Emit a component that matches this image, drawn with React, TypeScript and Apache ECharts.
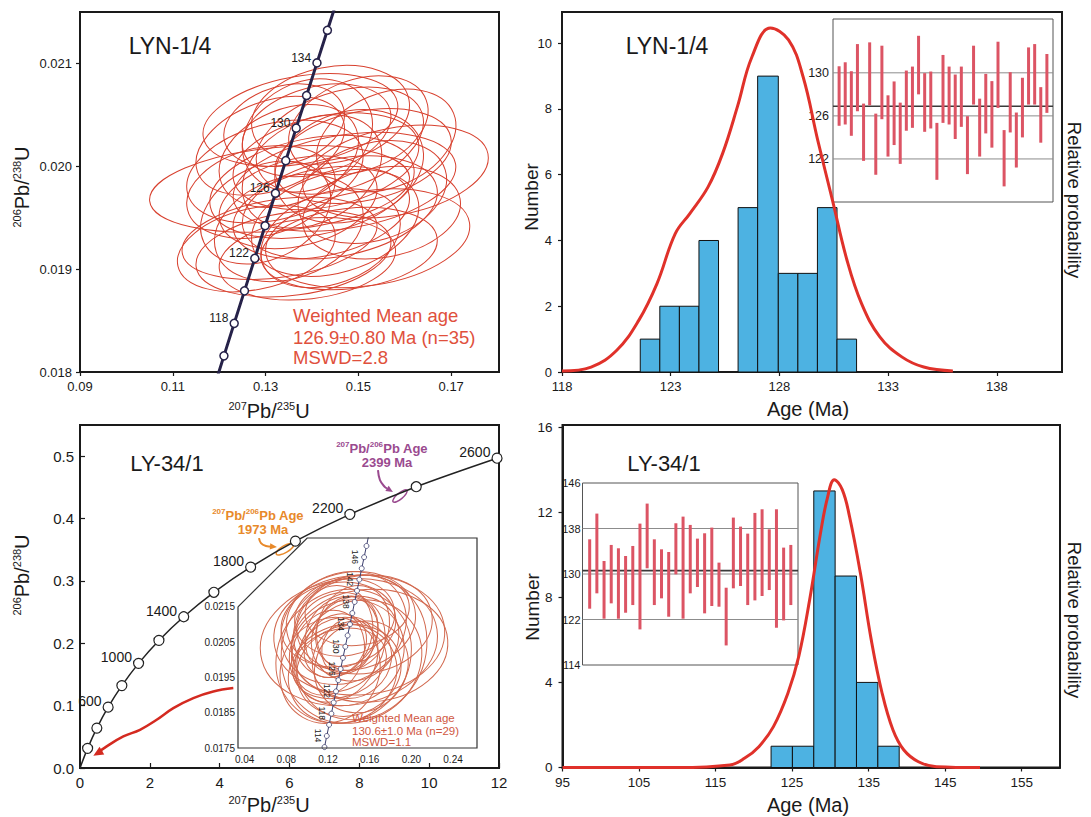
import React, { useEffect, useRef } from "react";
import * as echarts from "echarts";

const FONT = '"Liberation Sans", Arial, Helvetica, sans-serif';

// ---------- Concordia, small age range (LYN-1/4 and LY-34/1 inset) ----------
const concAgesSmall = [112, 114, 116, 118, 120, 122, 124, 126, 128, 130, 132, 134, 136, 138, 140, 142, 144, 146, 148, 150];
const concX207Small = [0.11662, 0.11882, 0.12102, 0.12323, 0.12545, 0.12767, 0.12989, 0.13212, 0.13435, 0.13659, 0.13883, 0.14107, 0.14332, 0.14558, 0.14784, 0.1501, 0.15237, 0.15464, 0.15692, 0.1592];
const concY206Small = [0.017526, 0.017841, 0.018157, 0.018473, 0.018789, 0.019105, 0.019422, 0.019738, 0.020055, 0.020371, 0.020688, 0.021005, 0.021322, 0.021638, 0.021955, 0.022272, 0.022589, 0.022906, 0.023224, 0.023542];
const concMarkAgesTop = [116, 118, 120, 122, 124, 126, 128, 130, 132, 134, 136];
const concLabelAgesTop = [118, 122, 126, 130, 134];
const concMarkAgesInset = [112, 114, 116, 118, 120, 122, 124, 126, 128, 130, 132, 134, 136, 138, 140, 142, 144, 146, 148];
const concLabelAgesInset = [114, 118, 122, 126, 130, 134, 138, 142, 146];

// ---------- Concordia, full range (LY-34/1) ----------
const concAgesLarge = [0, 200, 400, 600, 800, 1000, 1200, 1400, 1600, 1800, 2000, 2200, 2400, 2600];
const concX207Large = [0, 0.2177, 0.4828, 0.8056, 1.1987, 1.6774, 2.2603, 2.9701, 3.8344, 4.8869, 6.1685, 7.7292, 9.6295, 11.9438];
const concY206Large = [0, 0.03151, 0.06402, 0.09754, 0.13213, 0.1678, 0.20459, 0.24256, 0.28172, 0.32211, 0.36376, 0.40673, 0.45106, 0.49679];
const concLabelAgesLarge = [600, 1000, 1400, 1800, 2200, 2600];

// ---------- LYN-1/4 error ellipses (207/235, 206/238, sx, sy, rho) ----------
const elX1 = [0.133, 0.1375, 0.144, 0.158, 0.152, 0.133, 0.14, 0.146, 0.148, 0.135, 0.129, 0.142, 0.15, 0.139, 0.145, 0.131, 0.153, 0.137, 0.143, 0.135, 0.148, 0.128, 0.141, 0.156, 0.132, 0.146, 0.139, 0.151, 0.136, 0.13, 0.144, 0.14, 0.147, 0.134, 0.155];
const elY1 = [0.01978, 0.02045, 0.0205, 0.01995, 0.0193, 0.0193, 0.0198, 0.02025, 0.02, 0.0201, 0.01975, 0.01955, 0.0204, 0.0191, 0.01945, 0.0202, 0.01975, 0.01965, 0.02005, 0.0194, 0.0192, 0.0192, 0.02035, 0.02025, 0.01995, 0.0196, 0.0203, 0.0201, 0.01915, 0.01955, 0.0193, 0.01995, 0.01985, 0.0204, 0.01955];
const elSX1 = [0.028, 0.021, 0.017, 0.02, 0.022, 0.021, 0.022, 0.018, 0.016, 0.015, 0.016, 0.019, 0.015, 0.019, 0.018, 0.016, 0.016, 0.017, 0.02, 0.016, 0.019, 0.017, 0.016, 0.015, 0.019, 0.021, 0.014, 0.019, 0.021, 0.014, 0.015, 0.015, 0.024, 0.013, 0.017];
const elSY1 = [0.00042, 0.00045, 0.00048, 0.00045, 0.00048, 0.0004, 0.0005, 0.00052, 0.00055, 0.0005, 0.00045, 0.00045, 0.00048, 0.0004, 0.00052, 0.00048, 0.0005, 0.00045, 0.00047, 0.00052, 0.0004, 0.00042, 0.00045, 0.0005, 0.0005, 0.0005, 0.00055, 0.00046, 0.00042, 0.0005, 0.00048, 0.00055, 0.00048, 0.0004, 0.00045];
const elRho1 = [0.25, 0.3, 0.2, 0.3, 0.25, 0.3, 0.3, 0.35, 0.2, 0.3, 0.25, 0.3, 0.3, 0.2, 0.3, 0.35, 0.25, 0.3, 0.3, 0.25, 0.2, 0.3, 0.3, 0.3, 0.3, 0.3, 0.2, 0.3, 0.25, 0.3, 0.3, 0.3, 0.3, 0.25, 0.2];

// ---------- LY-34/1 inset error ellipses ----------
const elX2 = [0.14, 0.15, 0.145, 0.135, 0.13, 0.138, 0.142, 0.128, 0.15, 0.133, 0.125, 0.14, 0.155, 0.136, 0.12, 0.146, 0.131, 0.138, 0.16, 0.127, 0.143, 0.134, 0.148, 0.122, 0.139, 0.152, 0.13, 0.144, 0.135];
const elY2 = [0.0205, 0.0207, 0.0203, 0.0209, 0.0205, 0.0202, 0.0211, 0.02, 0.02, 0.0207, 0.0208, 0.0197, 0.021, 0.0212, 0.0202, 0.0206, 0.0199, 0.0208, 0.0204, 0.0204, 0.02, 0.0196, 0.0214, 0.0197, 0.0204, 0.0198, 0.021, 0.0209, 0.0201];
const elSX2 = [0.085, 0.082, 0.07, 0.06, 0.045, 0.055, 0.062, 0.04, 0.06, 0.035, 0.038, 0.05, 0.065, 0.048, 0.035, 0.042, 0.045, 0.03, 0.075, 0.03, 0.038, 0.052, 0.05, 0.048, 0.025, 0.045, 0.055, 0.035, 0.065];
const elSY2 = [0.0018, 0.0017, 0.0021, 0.0016, 0.0014, 0.0015, 0.0014, 0.0012, 0.0017, 0.0011, 0.0013, 0.0013, 0.0014, 0.0011, 0.0012, 0.0012, 0.001, 0.001, 0.0016, 0.0009, 0.0011, 0.0014, 0.001, 0.0015, 0.0008, 0.0013, 0.0012, 0.0012, 0.0019];
const elRho2 = [0.1, 0.05, 0.1, 0.15, 0.1, 0.1, 0.1, 0.2, 0.1, 0.15, 0.1, 0.1, 0.1, 0.1, 0.15, 0.1, 0.2, 0.15, 0.05, 0.2, 0.1, 0.1, 0.1, 0.1, 0.2, 0.1, 0.1, 0.15, 0.1];

// ---------- LY-34/1 inherited zircons ----------
const oldX = [5.87, 9.164];
const oldY = [0.351, 0.436];
const oldSX = [0.253, 0.205];
const oldSY = [0.0094, 0.00996];
const oldRho = [0.73, 0.79];

// ---------- annotation arrows (LY-34/1, in axis units) ----------
const redArrowX = [4.391, 3.818, 3.246, 2.673, 2.196, 1.718, 1.241, 0.764, 0.477, 0.382];
const redArrowY = [0.1281, 0.1227, 0.1121, 0.096, 0.0773, 0.0613, 0.0507, 0.0347, 0.0229, 0.0197];
const orangeArrowX = [5.126, 5.183, 5.326, 5.641];
const orangeArrowY = [0.3687, 0.3607, 0.3559, 0.3543];
const purpleArrowX = [8.534, 8.591, 8.734, 8.963];
const purpleArrowY = [0.4776, 0.4616, 0.4504, 0.4424];

// ---------- LYN-1/4 histogram & probability ----------
const binEdges1 = [121.6, 122.5, 123.4, 124.3, 125.2, 126.1, 127.0, 127.95, 128.85, 129.75, 130.65, 131.55];
const binCounts1 = [1, 2, 2, 4, 0, 5, 9, 3, 3, 5, 1];
const probAge1 = [118.0, 119.34, 120.52, 121.53, 122.37, 123.21, 123.88, 124.72, 125.39, 126.07, 126.74, 127.58, 128.42, 129.09, 129.76, 130.44, 131.11, 131.78, 132.62, 133.63, 134.64, 135.98];
const probVal1 = [0.03, 0.15, 0.66, 1.57, 2.69, 4.21, 4.82, 5.63, 6.65, 8.07, 9.59, 10.46, 10.1, 8.98, 7.06, 5.23, 3.4, 2.08, 1.07, 0.46, 0.15, 0.03];

// ---------- LYN-1/4 inset (age error bars) ----------
const insetHi1 = [130.61, 130.98, 130.15, 132.67, 127.14, 132.83, 126.21, 132.52, 127.91, 129.2, 127.23, 130.21, 130.58, 133.44, 129.97, 130.12, 125.35, 131.66, 130.58, 129.84, 130.58, 125.97, 132.52, 127.6, 129.9, 129.23, 132.89, 124.68, 130.06, 126.31, 129.54, 132.36, 132.67, 128.67, 131.75];
const insetLo1 = [125.08, 125.2, 124.15, 126.43, 121.82, 126.98, 120.53, 125.69, 122.22, 123.29, 121.54, 124.62, 124.89, 128.0, 124.52, 124.83, 120.06, 125.35, 125.2, 123.85, 124.98, 120.59, 127.05, 122.22, 124.37, 123.05, 126.74, 119.45, 124.46, 121.2, 124.0, 127.05, 127.05, 123.51, 126.28];
const insetRef1 = [122, 126, 130];
const insetMean1 = 126.9;
const insetTicks1 = [122, 126, 130];

// ---------- LY-34/1 histogram & probability ----------
const binEdges2 = [122.25, 125.04, 127.83, 130.62, 133.41, 136.2, 138.99];
const binCounts2 = [1, 1, 13, 9, 4, 1];
const probAge2 = [95, 110, 116.87, 118.77, 120.66, 122.56, 124.45, 125.87, 127.29, 128.71, 129.66, 130.51, 131.55, 132.5, 133.92, 135.34, 136.76, 138.18, 139.6, 141.5, 143.86, 149.55];
const probVal2 = [0, 0, 0.12, 0.43, 0.98, 1.92, 3.49, 5.22, 7.88, 11.02, 12.75, 13.53, 13.06, 11.8, 9.14, 6.0, 3.49, 1.76, 0.82, 0.27, 0.04, 0];

// ---------- LY-34/1 inset (age error bars) ----------
const insetHi2 = [136.1, 140.62, 132.29, 135.11, 134.52, 133.17, 134.93, 138.86, 142.38, 136.1, 134.34, 133.87, 138.92, 140.09, 138.63, 136.22, 137.16, 138.16, 132.0, 127.59, 139.92, 138.33, 137.1, 140.74, 141.38, 137.86, 141.38, 134.64, 135.11];
const insetLo2 = [123.9, 126.6, 122.14, 124.84, 122.14, 123.19, 124.54, 120.26, 131.0, 124.54, 125.72, 122.49, 129.94, 122.14, 126.6, 127.71, 123.08, 124.37, 124.25, 117.44, 127.48, 127.89, 124.54, 125.36, 126.13, 127.18, 120.55, 121.84, 124.54];
const insetRef2 = [122, 130, 138];
const insetMean2 = 130.6;
const insetTicks2 = [114, 122, 130, 138, 146];

// ---------- axis ticks ----------
const ticksX0 = [0.09, 0.11, 0.13, 0.15, 0.17];
const ticksY0 = [0.018, 0.019, 0.02, 0.021];
const ticksX1 = [118, 123, 128, 133, 138];
const ticksY1 = [0, 2, 4, 6, 8, 10];
const ticksX3 = [0, 2, 4, 6, 8, 10, 12];
const ticksY3 = [0, 0.1, 0.2, 0.3, 0.4, 0.5];
const ticksX4 = [0.04, 0.08, 0.12, 0.16, 0.2, 0.24];
const ticksY4 = [0.0175, 0.0185, 0.0195, 0.0205, 0.0215];
const ticksX5 = [95, 105, 115, 125, 135, 145, 155];
const ticksY5 = [0, 4, 8, 12, 16];

// layout
const G = [
  { left: 80, top: 12, width: 419, height: 360 },
  { left: 562, top: 12, width: 500, height: 360 },
  { left: 833, top: 19, width: 220, height: 183 },
  { left: 80, top: 425, width: 419, height: 343 },
  { left: 238, top: 538, width: 239, height: 210 },
  { left: 562.5, top: 425, width: 497.5, height: 342.5 },
  { left: 582.5, top: 483, width: 215.5, height: 182 },
];
const X4 = [0.0336, 0.263];
const Y4 = [0.0175, 0.02345];

const INK = "#1a1a1a";

function valAxis(gi: number, min: number, max: number, ticks: number[] | null, fmt: any, o: any = {}) {
  return {
    type: "value",
    gridIndex: gi,
    min,
    max,
    show: o.show !== false,
    axisLine: { show: o.line !== false, onZero: false, lineStyle: { color: INK, width: o.lw ?? 2 } },
    axisTick: {
      show: o.tick !== false && !!ticks,
      inside: !!o.inside,
      length: o.tickLen ?? 4,
      customValues: ticks || undefined,
      lineStyle: { color: INK, width: 1.2 },
    },
    axisLabel: {
      show: !!ticks,
      customValues: ticks || undefined,
      formatter: fmt,
      fontSize: o.fs ?? 13,
      fontFamily: FONT,
      color: INK,
      margin: o.margin ?? 8,
    },
    splitLine: { show: false },
  };
}

function ellipseSeries(gi: number, xs: number[], ys: number[], sxs: number[], sys: number[], rhos: number[], color: string, lw: number, z: number) {
  return {
    type: "custom",
    xAxisIndex: gi,
    yAxisIndex: gi,
    clip: true,
    z,
    silent: true,
    data: xs.map((x, i) => [x, ys[i], sxs[i], sys[i], rhos[i]]),
    renderItem: (_p: any, api: any) => {
      const c = api.coord([api.value(0), api.value(1)]);
      const s = api.size([api.value(2), api.value(3)]);
      const rho = api.value(4);
      const a = s[0] * s[0];
      const d = s[1] * s[1];
      const b = -rho * s[0] * s[1];
      const th = 0.5 * Math.atan2(2 * b, a - d);
      const m = (a + d) / 2;
      const r = Math.sqrt(((a - d) / 2) * ((a - d) / 2) + b * b);
      const rx = Math.sqrt(m + r);
      const ry = Math.sqrt(Math.max(m - r, 0.5));
      return {
        type: "ellipse",
        x: c[0],
        y: c[1],
        rotation: -th,
        shape: { cx: 0, cy: 0, rx, ry },
        style: { fill: "none", stroke: color, lineWidth: lw },
      };
    },
  };
}

function histSeries(gi: number, edges: number[], counts: number[]) {
  const data: number[][] = [];
  counts.forEach((c, i) => {
    if (c > 0) data.push([edges[i], edges[i + 1], c]);
  });
  return {
    type: "custom",
    xAxisIndex: gi,
    yAxisIndex: gi,
    z: 2,
    silent: true,
    data,
    renderItem: (_p: any, api: any) => {
      const p0 = api.coord([api.value(0), api.value(2)]);
      const p1 = api.coord([api.value(1), 0]);
      return {
        type: "rect",
        shape: { x: p0[0], y: p0[1], width: p1[0] - p0[0], height: p1[1] - p0[1] },
        style: { fill: "#4db2e2", stroke: "#111", lineWidth: 1 },
      };
    },
  };
}

function errorBarSeries(gi: number, lo: number[], hi: number[], lw: number) {
  return {
    type: "custom",
    xAxisIndex: gi,
    yAxisIndex: gi,
    z: 4,
    silent: true,
    data: lo.map((l, i) => [i + 1, l, hi[i]]),
    renderItem: (_p: any, api: any) => {
      const a = api.coord([api.value(0), api.value(1)]);
      const b = api.coord([api.value(0), api.value(2)]);
      return {
        type: "line",
        shape: { x1: a[0], y1: a[1], x2: b[0], y2: b[1] },
        style: { stroke: "#dc5464", lineWidth: lw },
      };
    },
  };
}

function refLine(gi: number, v: number, xmax: number, color: string, w: number) {
  return {
    type: "line",
    xAxisIndex: gi,
    yAxisIndex: gi,
    symbol: "none",
    silent: true,
    z: 3,
    data: [
      [0, v],
      [xmax, v],
    ],
    lineStyle: { color, width: w },
  };
}

function arrowSeries(gi: number, xs: number[], ys: number[], color: string, lw: number, head: number) {
  return {
    type: "custom",
    xAxisIndex: gi,
    yAxisIndex: gi,
    z: 6,
    silent: true,
    data: [[xs[0], ys[0]]],
    renderItem: (_p: any, api: any) => {
      const pts = xs.map((x, i) => api.coord([x, ys[i]]));
      const n = pts.length;
      const tip = pts[n - 1];
      const prev = pts[n - 2];
      const ang = Math.atan2(tip[1] - prev[1], tip[0] - prev[0]);
      const w = head * 0.45;
      const bx = tip[0] - head * Math.cos(ang);
      const by = tip[1] - head * Math.sin(ang);
      const l = [bx + w * Math.sin(ang), by - w * Math.cos(ang)];
      const r = [bx - w * Math.sin(ang), by + w * Math.cos(ang)];
      return {
        type: "group",
        children: [
          {
            type: "polyline",
            shape: { points: pts.slice(0, n - 1).concat([[bx, by]]), smooth: 0.4 },
            style: { stroke: color, lineWidth: lw, fill: "none" },
          },
          { type: "polygon", shape: { points: [tip, l, r] }, style: { fill: color } },
        ],
      };
    },
  };
}

function concordiaSeries(
  gi: number,
  ages: number[],
  xs: number[],
  ys: number[],
  markAges: number[],
  labelAges: number[],
  o: any
) {
  return {
    type: "line",
    xAxisIndex: gi,
    yAxisIndex: gi,
    z: 5,
    clip: true,
    silent: true,
    smooth: o.smooth ?? false,
    showAllSymbol: true,
    symbolSize: o.size,
    itemStyle: { color: "#fff", borderColor: o.color, borderWidth: o.bw },
    lineStyle: { color: o.color, width: o.lw },
    label: { ...o.label, fontFamily: FONT, color: INK },
    data: ages.map((a, i) => ({
      value: [xs[i], ys[i]],
      symbol: markAges.indexOf(a) >= 0 ? "circle" : "none",
      label: labelAges.indexOf(a) >= 0 ? { show: true, formatter: String(a) } : { show: false },
    })),
  };
}

function txt(x: number, y: number, text: string, fs: number, color: string, o: any = {}) {
  return {
    type: "text",
    x,
    y,
    rotation: o.rot || 0,
    z: 100,
    silent: true,
    style: {
      text,
      fontSize: fs,
      fontFamily: FONT,
      fontWeight: o.bold ? "bold" : "normal",
      fill: color,
      align: o.align || "center",
      verticalAlign: "middle",
      rich: o.rich,
    },
  };
}

function isoRich(main: number, sup: number, bold = false) {
  const w = bold ? "bold" : "normal";
  return {
    s: { fontSize: sup, lineHeight: sup + 1, verticalAlign: "top", fontFamily: FONT, fontWeight: w },
    m: { fontSize: main, lineHeight: main + 2, fontFamily: FONT, fontWeight: w },
  };
}

function buildOption() {
  const g4 = G[4];
  const chamferY = g4.top + (g4.height * (Y4[1] - 0.0215)) / (Y4[1] - Y4[0]);
  const chamferX = g4.left + (g4.width * (0.1 - X4[0])) / (X4[1] - X4[0]);
  const frame = [
    [g4.left, chamferY],
    [chamferX, g4.top],
    [g4.left + g4.width, g4.top],
    [g4.left + g4.width, g4.top + g4.height],
    [g4.left, g4.top + g4.height],
    [g4.left, chamferY],
  ];

  const red = "#e0312a";
  const wmColor = "#e0503c";

  return {
    animation: false,
    backgroundColor: "#ffffff",
    grid: G.map((g, i) => ({
      ...g,
      show: i !== 4,
      borderColor: i === 2 || i === 6 ? "#555" : INK,
      borderWidth: i === 2 || i === 6 ? 1 : 2,
      backgroundColor: "transparent",
      containLabel: false,
    })),
    xAxis: [
      valAxis(0, 0.09, 0.1803, ticksX0, (v: number) => v.toFixed(2), { fs: 13 }),
      valAxis(1, 118, 141, ticksX1, (v: number) => String(v), { fs: 13 }),
      valAxis(2, 0, 36, null, null, { show: false }),
      valAxis(3, 0, 12, ticksX3, (v: number) => String(v), { fs: 15, inside: true, tickLen: 5, margin: 7 }),
      valAxis(4, X4[0], X4[1], ticksX4, (v: number) => v.toFixed(2), { fs: 10, line: false, tick: false, margin: 6 }),
      valAxis(5, 95, 160, ticksX5, (v: number) => String(v), { fs: 13.5 }),
      valAxis(6, 0, 30, null, null, { show: false }),
    ],
    yAxis: [
      valAxis(0, 0.018, 0.0215, ticksY0, (v: number) => v.toFixed(3), { fs: 13 }),
      valAxis(1, 0, 10.95, ticksY1, (v: number) => String(v), { fs: 13, margin: 10 }),
      valAxis(2, 118, 135, insetTicks1, (v: number) => String(v), { fs: 12.5, line: false, tick: false, margin: 4 }),
      valAxis(3, 0, 0.55, ticksY3, (v: number) => v.toFixed(1), { fs: 15, inside: true, tickLen: 5, margin: 6 }),
      valAxis(4, Y4[0], Y4[1], ticksY4, (v: number) => v.toFixed(4), { fs: 10, line: false, tick: false, margin: 3 }),
      valAxis(5, 0, 16.1, ticksY5, (v: number) => String(v), { fs: 13.5, margin: 10 }),
      valAxis(6, 114, 146, insetTicks2, (v: number) => String(v), { fs: 11, line: false, tick: false, margin: 2 }),
    ],
    series: [
      // LYN-1/4 concordia diagram
      ellipseSeries(0, elX1, elY1, elSX1, elSY1, elRho1, "#d8412f", 1, 2),
      concordiaSeries(0, concAgesSmall, concX207Small, concY206Small, concMarkAgesTop, concLabelAgesTop, {
        color: "#262249",
        lw: 3,
        size: 8,
        bw: 1.5,
        label: { position: "left", distance: 1, offset: [0, -5], fontSize: 12 },
      }),
      // LYN-1/4 histogram
      histSeries(1, binEdges1, binCounts1),
      {
        type: "line",
        xAxisIndex: 1,
        yAxisIndex: 1,
        z: 5,
        smooth: 0.4,
        symbol: "none",
        silent: true,
        data: probAge1.map((a, i) => [a, probVal1[i]]),
        lineStyle: { color: red, width: 3 },
      },
      ...insetRef1.map((v) => refLine(2, v, 36, "#8c8c8c", 1)),
      refLine(2, insetMean1, 36, "#3a3a3a", 1.6),
      errorBarSeries(2, insetLo1, insetHi1, 3),
      // LY-34/1 concordia diagram
      concordiaSeries(3, concAgesLarge, concX207Large, concY206Large, concAgesLarge.slice(1), concLabelAgesLarge, {
        color: "#222",
        lw: 1.5,
        size: 10,
        bw: 1.2,
        smooth: 0.3,
        label: { position: "left", distance: 1, offset: [0, -6], fontSize: 14 },
      }),
      ellipseSeries(3, oldX.slice(0, 1), oldY.slice(0, 1), oldSX.slice(0, 1), oldSY.slice(0, 1), oldRho.slice(0, 1), "#e8892a", 1.5, 4),
      ellipseSeries(3, oldX.slice(1), oldY.slice(1), oldSX.slice(1), oldSY.slice(1), oldRho.slice(1), "#9a4a8f", 1.5, 4),
      arrowSeries(3, redArrowX, redArrowY, "#d42a20", 2.5, 10),
      arrowSeries(3, orangeArrowX, orangeArrowY, "#e8892a", 2, 7),
      arrowSeries(3, purpleArrowX, purpleArrowY, "#9a4a8f", 2, 7),
      // LY-34/1 inset
      ellipseSeries(4, elX2, elY2, elSX2, elSY2, elRho2, "#d2694f", 1, 2),
      concordiaSeries(4, concAgesSmall, concX207Small, concY206Small, concMarkAgesInset, concLabelAgesInset, {
        color: "#3c3f6e",
        lw: 1,
        size: 5,
        bw: 0.8,
        label: { position: [-6, 2.5], align: "center", verticalAlign: "middle", rotate: -90, fontSize: 8.5 },
      }),
      // LY-34/1 histogram
      histSeries(5, binEdges2, binCounts2),
      {
        type: "line",
        xAxisIndex: 5,
        yAxisIndex: 5,
        z: 5,
        smooth: 0.4,
        symbol: "none",
        silent: true,
        data: probAge2.map((a, i) => [a, probVal2[i]]),
        lineStyle: { color: red, width: 3 },
      },
      ...insetRef2.map((v) => refLine(6, v, 30, "#8c8c8c", 1)),
      refLine(6, insetMean2, 30, "#3a3a3a", 1.6),
      errorBarSeries(6, insetLo2, insetHi2, 3),
    ],
    graphic: [
      { type: "polyline", z: 50, silent: true, shape: { points: frame }, style: { stroke: "#333", lineWidth: 1.2, fill: "none" } },
      // panel titles
      txt(170, 46, "LYN-1/4", 23, INK),
      txt(667, 46, "LYN-1/4", 23, INK),
      txt(167, 463, "LY-34/1", 22, INK),
      txt(664, 463, "LY-34/1", 22, INK),
      // weighted mean text
      txt(293, 315, "Weighted Mean age", 18.5, wmColor, { align: "left" }),
      txt(293, 337, "126.9±0.80 Ma (n=35)", 18.5, wmColor, { align: "left" }),
      txt(293, 357, "MSWD=2.8", 18.5, wmColor, { align: "left" }),
      txt(352, 718, "Weighted Mean age", 11.5, "#d0573f", { align: "left" }),
      txt(352, 731, "130.6±1.0 Ma (n=29)", 11.5, "#d0573f", { align: "left" }),
      txt(352, 742, "MSWD=1.1", 11.5, "#d0573f", { align: "left" }),
      // inherited ages
      txt(258, 515, "{s|207}{m|Pb/}{s|206}{m|Pb Age}", 13, "#e8892a", { bold: true, rich: isoRich(13, 8, true) }),
      txt(263, 529, "1973 Ma", 13, "#e8892a", { bold: true }),
      txt(382, 448, "{s|207}{m|Pb/}{s|206}{m|Pb Age}", 13, "#9a4a8f", { bold: true, rich: isoRich(13, 8, true) }),
      txt(387, 462, "2399 Ma", 13, "#9a4a8f", { bold: true }),
      // axis names
      txt(22, 187, "{s|206}{m|Pb/}{s|238}{m|U}", 20, INK, { rot: Math.PI / 2, rich: isoRich(20, 11) }),
      txt(269, 411, "{s|207}{m|Pb/}{s|235}{m|U}", 20, INK, { rich: isoRich(20, 11) }),
      txt(22, 575, "{s|206}{m|Pb/}{s|238}{m|U}", 20, INK, { rot: Math.PI / 2, rich: isoRich(20, 11) }),
      txt(269, 805, "{s|207}{m|Pb/}{s|235}{m|U}", 20, INK, { rich: isoRich(20, 11) }),
      txt(531, 197, "Number", 19, INK, { rot: Math.PI / 2 }),
      txt(532, 607, "Number", 19, INK, { rot: Math.PI / 2 }),
      txt(1074, 200, "Relative probability", 18.5, INK, { rot: -Math.PI / 2 }),
      txt(1074, 620, "Relative probability", 18.5, INK, { rot: -Math.PI / 2 }),
      txt(808, 409, "Age (Ma)", 20, INK),
      txt(808, 805, "Age (Ma)", 20, INK),
    ],
  };
}

export default function App() {
  const ref = useRef<HTMLDivElement>(null);
  useEffect(() => {
    if (!ref.current) return;
    const chart = echarts.init(ref.current, undefined, { renderer: "svg" });
    chart.setOption(buildOption() as any);
    return () => {
      chart.dispose();
    };
  }, []);
  return (
    <div
      ref={ref}
      style={{ position: "absolute", left: 0, top: 0, width: 1091, height: 817, background: "#fff" }}
    />
  );
}
